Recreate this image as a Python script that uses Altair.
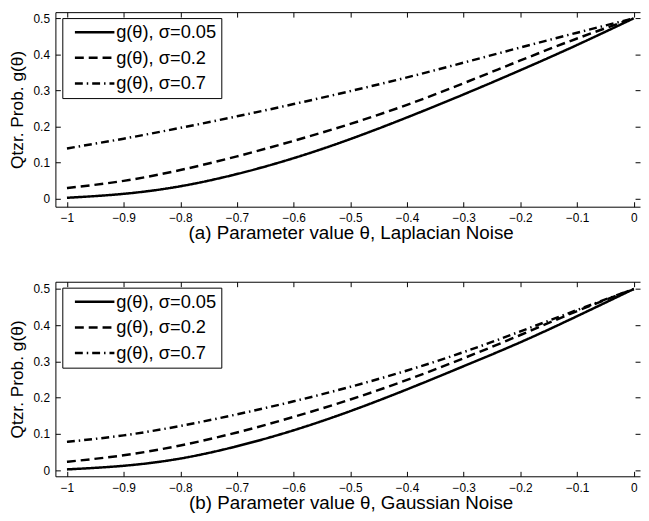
import altair as alt
import pandas as pd

FONT = "Liberation Sans"

# ---- data ----
theta = [-1.0, -0.9, -0.8, -0.7, -0.6, -0.5, -0.4, -0.3, -0.2, -0.1, 0.0]

lap_s005 = [0.002, 0.013, 0.034, 0.068, 0.112, 0.165, 0.225, 0.289, 0.356, 0.426, 0.500]
lap_s02 = [0.029, 0.049, 0.079, 0.117, 0.160, 0.207, 0.260, 0.320, 0.383, 0.444, 0.500]
lap_s07 = [0.139, 0.166, 0.196, 0.228, 0.262, 0.298, 0.336, 0.377, 0.419, 0.460, 0.500]

gau_s005 = [0.002, 0.012, 0.032, 0.066, 0.110, 0.163, 0.223, 0.287, 0.353, 0.425, 0.500]
gau_s02 = [0.023, 0.041, 0.068, 0.104, 0.147, 0.195, 0.249, 0.309, 0.373, 0.439, 0.500]
gau_s07 = [0.078, 0.096, 0.122, 0.154, 0.190, 0.230, 0.275, 0.326, 0.383, 0.442, 0.500]

series_labels = ["g(θ), σ=0.05", "g(θ), σ=0.2", "g(θ), σ=0.7"]
dash_styles = [[1, 0], [9, 5], [8, 4, 1.5, 4]]

x_ticks = [-1.0, -0.9, -0.8, -0.7, -0.6, -0.5, -0.4, -0.3, -0.2, -0.1, 0.0]
y_ticks = [0.0, 0.1, 0.2, 0.3, 0.4, 0.5]

x_title_a = "(a) Parameter value θ, Laplacian Noise"
x_title_b = "(b) Parameter value θ, Gaussian Noise"
y_title = "Qtzr. Prob. g(θ)"


def make_frame(series_values):
    rows = []
    for label, vals in zip(series_labels, series_values):
        for t, v in zip(theta, vals):
            rows.append({"theta": t, "g": v, "series": label})
    return pd.DataFrame(rows)


df_a = make_frame([lap_s005, lap_s02, lap_s07])
df_b = make_frame([gau_s005, gau_s02, gau_s07])

W = 592
H = 197
X_DOMAIN = [-1.0204, 0.011]


def panel(df, xtitle, ydomain, title_y):
    xs = alt.Scale(domain=X_DOMAIN, nice=False, zero=False)
    ys = alt.Scale(domain=ydomain, nice=False, zero=False)

    lines = alt.Chart(df).mark_line(
        color="black", strokeWidth=2.5, interpolate="natural", clip=True
    ).encode(
        x=alt.X("theta:Q", scale=xs, axis=alt.Axis(
            orient="bottom", values=x_ticks, format="~g", ticks=False,
            domain=True, domainColor="black", domainWidth=1, grid=False,
            labelPadding=6, labelFont=FONT, labelFontSize=12, labelColor="black",
            labelFlush=False,
            title=xtitle, titleFont=FONT, titleFontSize=19,
            titleFontWeight="normal", titleColor="black",
            titleX=299, titleAlign="center",
            titleY=title_y, titleBaseline="alphabetic")),
        y=alt.Y("g:Q", scale=ys, axis=alt.Axis(
            orient="left", values=y_ticks, format="~g", ticks=False,
            domain=True, domainColor="black", domainWidth=1, grid=False,
            labelPadding=6, labelFont=FONT, labelFontSize=12, labelColor="black",
            labelFlush=False,
            title=y_title, titleFont=FONT, titleFontSize=17.5,
            titleFontWeight="normal", titleColor="black", titlePadding=7)),
        strokeDash=alt.StrokeDash("series:N", scale=alt.Scale(
            domain=series_labels, range=dash_styles), legend=alt.Legend(
            title=None, orient="none", legendX=7, legendY=6,
            symbolType="M-4,0H4", symbolSize=100, symbolStrokeWidth=2.5,
            symbolStrokeColor="black", symbolOffset=18.5, labelOffset=12.5,
            labelFont=FONT, labelFontSize=18.5, labelColor="black",
            strokeColor="black", fillColor="white", padding=5, rowPadding=7,
            labelLimit=0)),
    )

    ticks_bl = alt.Chart(df).mark_point(opacity=0).encode(
        x=alt.X("theta:Q", scale=xs, axis=alt.Axis(
            orient="bottom", values=x_ticks, offset=-5, tickSize=5,
            tickColor="black", labels=False, domain=False, grid=False, title=None)),
        y=alt.Y("g:Q", scale=ys, axis=alt.Axis(
            orient="left", values=y_ticks, offset=-5, tickSize=5,
            tickColor="black", labels=False, domain=False, grid=False, title=None)),
    )

    ticks_tr = alt.Chart(df).mark_point(opacity=0).encode(
        x=alt.X("theta:Q", scale=xs, axis=alt.Axis(
            orient="top", values=x_ticks, offset=-5, tickSize=5,
            tickColor="black", labels=False, domain=False, grid=False, title=None)),
        y=alt.Y("g:Q", scale=ys, axis=alt.Axis(
            orient="right", values=y_ticks, offset=-5, tickSize=5,
            tickColor="black", labels=False, domain=False, grid=False, title=None)),
    )

    frame_top = alt.Chart(df).mark_point(opacity=0).encode(
        x=alt.X("theta:Q", scale=xs, axis=alt.Axis(
            orient="top", values=x_ticks, ticks=False, labels=False,
            domain=True, domainColor="black", domainWidth=1, grid=False, title=None)),
        y=alt.Y("g:Q", scale=ys, axis=None),
    )

    return alt.layer(lines, ticks_bl, ticks_tr, frame_top).resolve_axis(
        x="independent", y="independent"
    ).properties(width=W, height=H)


top = panel(df_a, x_title_a, [-0.0227, 0.517], 32)
bottom = panel(df_b, x_title_b, [-0.017, 0.52], 33)

chart = alt.vconcat(top, bottom, spacing=76, bounds="flush").resolve_scale(
    strokeDash="independent"
).resolve_legend(strokeDash="independent").properties(
    padding={"left": 0, "top": 0, "right": 0, "bottom": 0}
).configure_view(stroke=None)

chart.save("out.html", embed_options={"renderer": "svg", "actions": False})
